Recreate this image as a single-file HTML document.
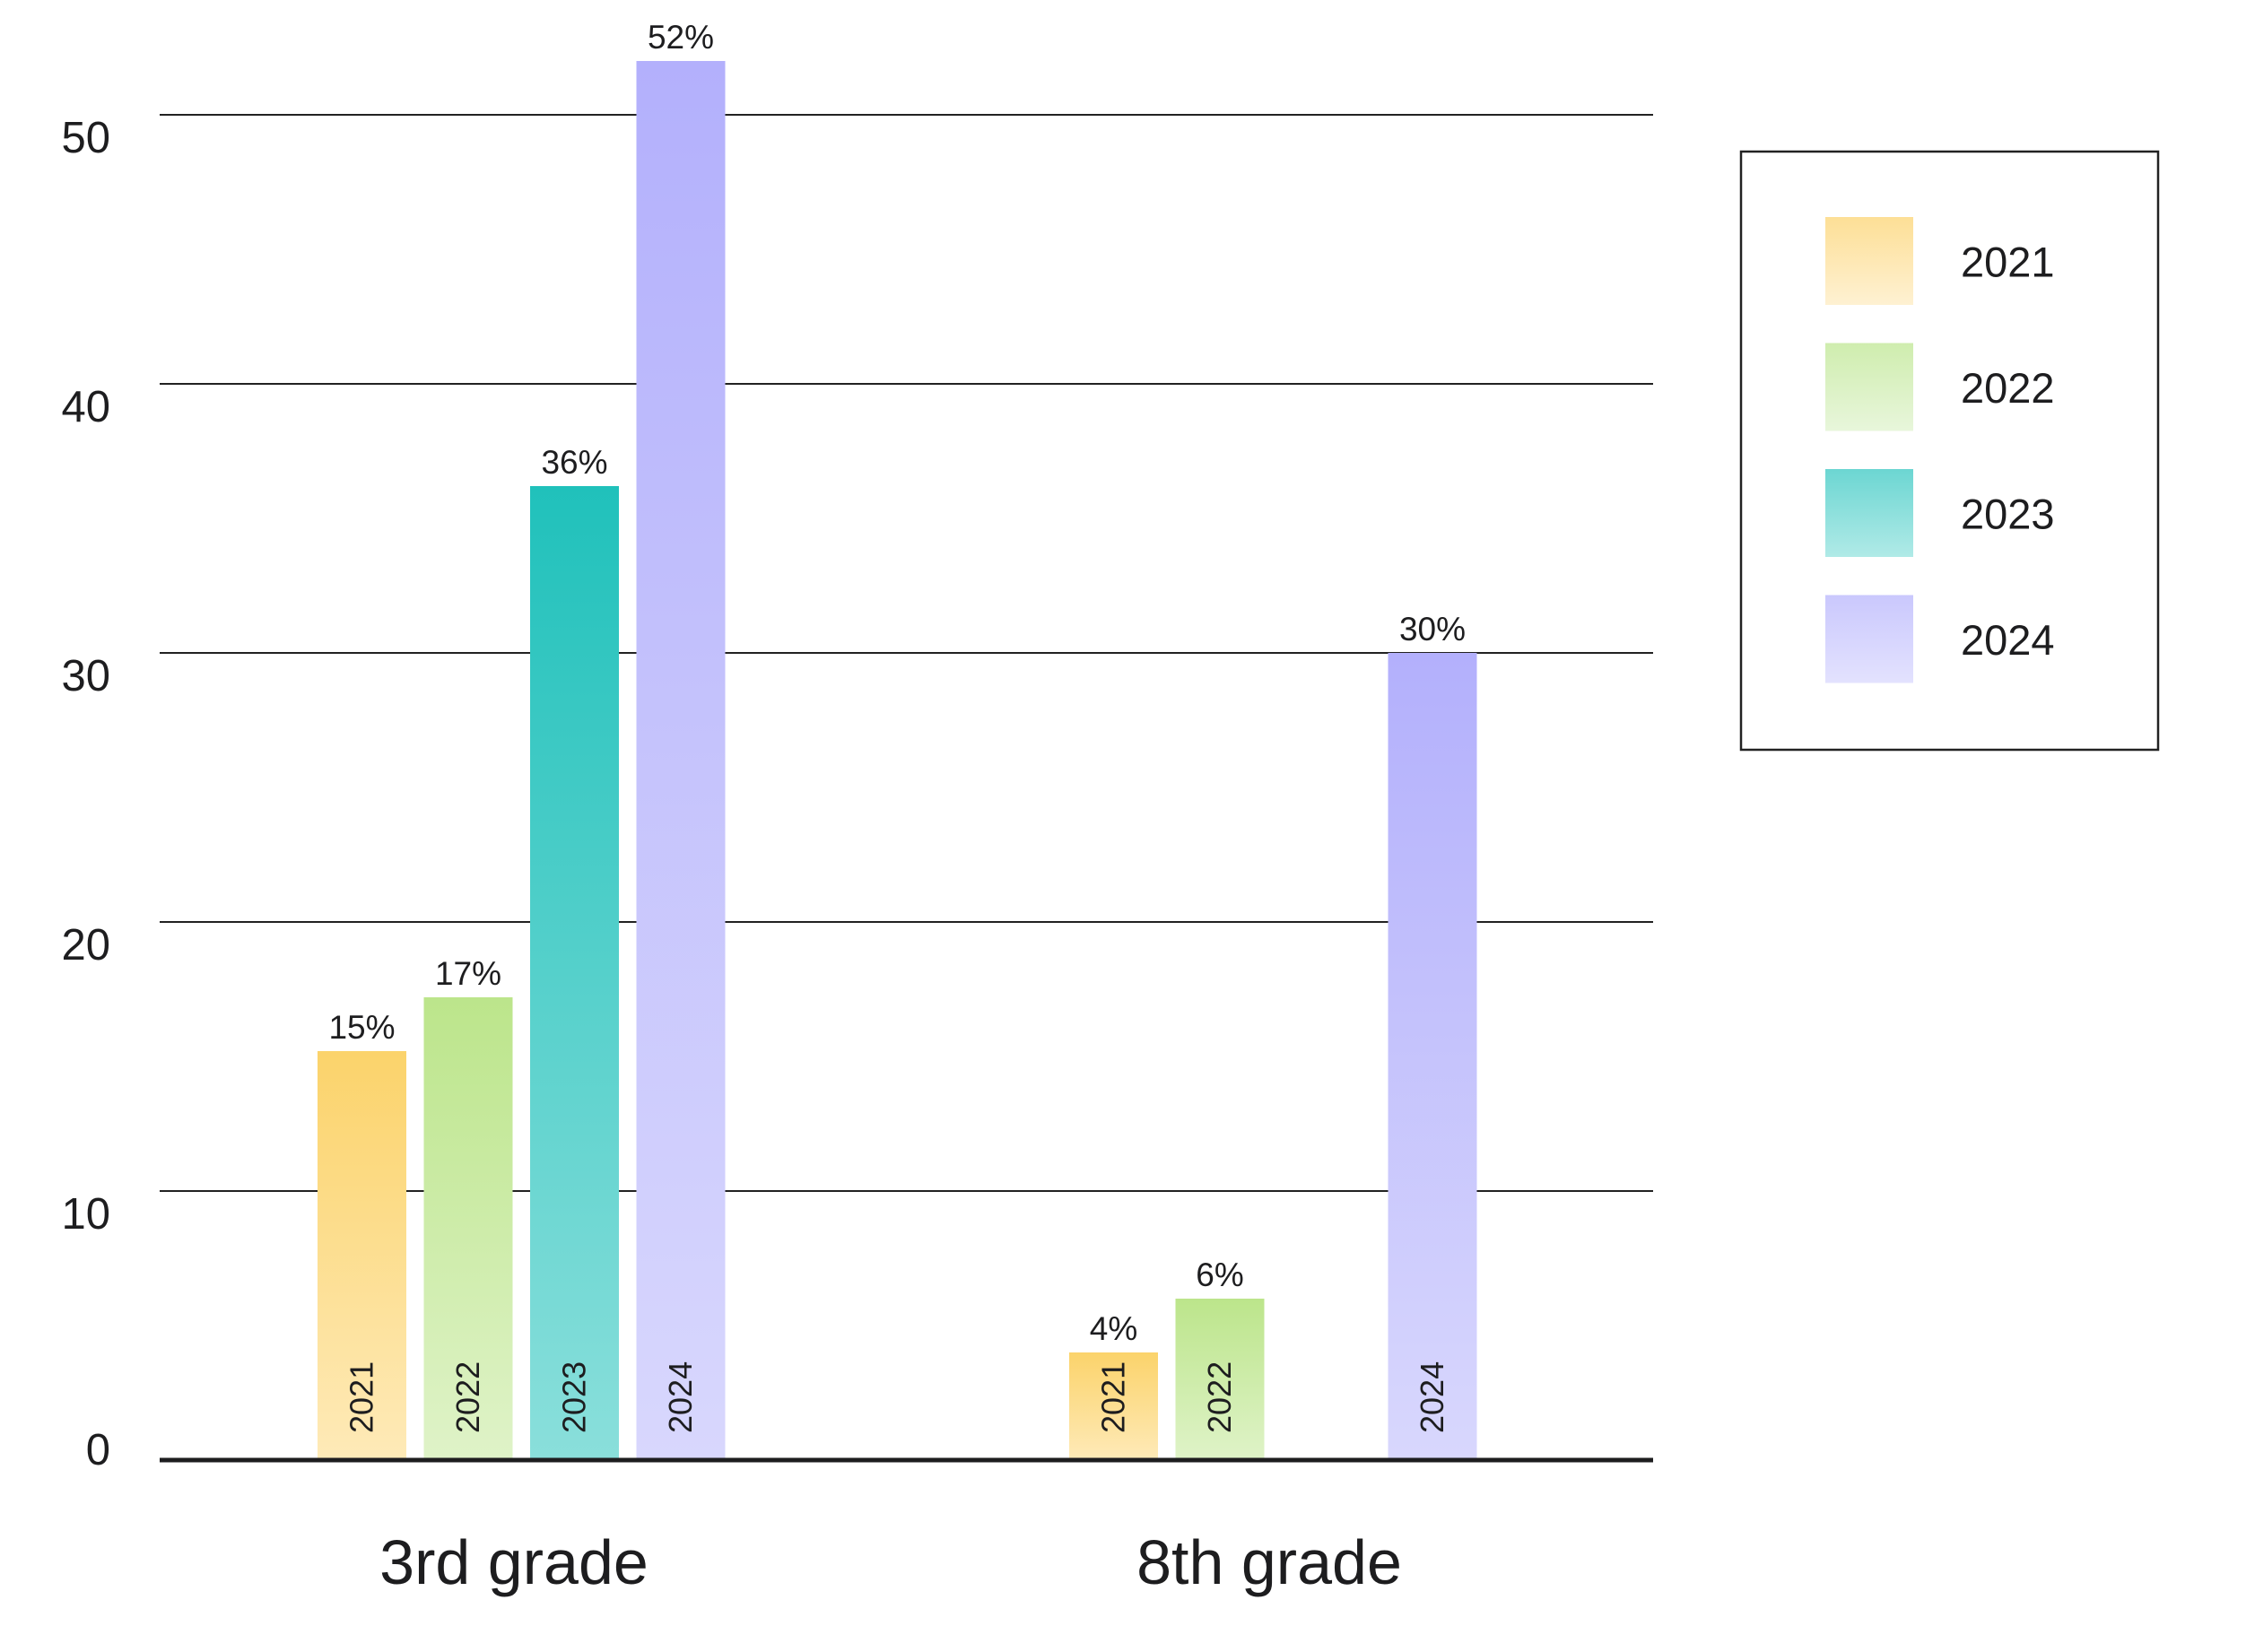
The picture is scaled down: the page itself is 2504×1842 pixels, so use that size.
<!DOCTYPE html>
<html><head><meta charset="utf-8"><style>
html,body{margin:0;padding:0;background:#fff;}
svg{display:block;font-family:"Liberation Sans",sans-serif;}
</style></head><body>
<svg id="chart" width="2504" height="1842" viewBox="0 0 2504 1842" xmlns="http://www.w3.org/2000/svg">
<defs>
<linearGradient id="g2021" x1="0" y1="0" x2="0" y2="1"><stop offset="0" stop-color="#fbd36b"/><stop offset="1" stop-color="#feeab8"/></linearGradient>
<linearGradient id="g2022" x1="0" y1="0" x2="0" y2="1"><stop offset="0" stop-color="#bce58b"/><stop offset="1" stop-color="#dff3c8"/></linearGradient>
<linearGradient id="g2023" x1="0" y1="0" x2="0" y2="1"><stop offset="0" stop-color="#20c1bb"/><stop offset="1" stop-color="#8adfdb"/></linearGradient>
<linearGradient id="g2024" x1="0" y1="0" x2="0" y2="1"><stop offset="0" stop-color="#b3b0fc"/><stop offset="1" stop-color="#d8d7fd"/></linearGradient>
<linearGradient id="l2021" x1="0" y1="0" x2="0" y2="1"><stop offset="0" stop-color="#fddf96"/><stop offset="1" stop-color="#fef1d2"/></linearGradient>
<linearGradient id="l2022" x1="0" y1="0" x2="0" y2="1"><stop offset="0" stop-color="#cfedae"/><stop offset="1" stop-color="#e8f6db"/></linearGradient>
<linearGradient id="l2023" x1="0" y1="0" x2="0" y2="1"><stop offset="0" stop-color="#6cd6d2"/><stop offset="1" stop-color="#b0eae7"/></linearGradient>
<linearGradient id="l2024" x1="0" y1="0" x2="0" y2="1"><stop offset="0" stop-color="#cac8fd"/><stop offset="1" stop-color="#e3e2fe"/></linearGradient>
</defs>
<g id="grid"></g>
<g id="bars"></g>
<g id="labels"></g>
<g id="legend">
<rect x="1941" y="169" width="465" height="667" fill="#fff" stroke="#222" stroke-width="2.5"/>
</g>
</svg>
<script>
const categories = ["3rd grade", "8th grade"];
const seriesNames = ["2021", "2022", "2023", "2024"];
const values3rd = [15.2, 17.2, 36.2, 52.0];
const values8th = [4.0, 6.0, null, 30.0];
const valueLabels3rd = ["15%", "17%", "36%", "52%"];
const valueLabels8th = ["4%", "6%", "", "30%"];
const yTicks = [0, 10, 20, 30, 40, 50];

const NS = "http://www.w3.org/2000/svg";
const svg = document.getElementById('chart');
const X0 = 178, X1 = 1843, Y0 = 1628, PXU = 30;
function y(v){ return Y0 - v * PXU; }
const groupStart = [354, 1192];
const step = 118.5, barW = 99;
function bx(g, s){ return groupStart[g] + s * step; }
function mk(tag, attrs, parent){
  const e = document.createElementNS(NS, tag);
  for (const k in attrs) e.setAttribute(k, attrs[k]);
  parent.appendChild(e); return e;
}
const grid = document.getElementById('grid');
const bars = document.getElementById('bars');
const labels = document.getElementById('labels');
const legend = document.getElementById('legend');

yTicks.forEach(t => {
  if (t > 0) {
    const l = mk('line', {x1: X0, x2: X1, y1: y(t), y2: y(t), stroke: '#222', 'stroke-width': 2}, grid);
    
    
  }
  const ty = t > 0 ? y(t) + 26 : y(t) - 11;
  const tx = mk('text', {x: 123, y: ty, 'text-anchor': 'end', 'dominant-baseline': 'central', 'font-size': 49, fill: '#1d1d1f'}, labels);
  tx.textContent = t;
  
  
});

const allVals = [values3rd, values8th];
const allLabels = [valueLabels3rd, valueLabels8th];
allVals.forEach((vals, g) => {
  vals.forEach((v, s) => {
    if (v === null) return;
    const x = bx(g, s);
    const r = mk('rect', {x: x, y: y(v), width: barW, height: Y0 - y(v), fill: 'url(#g' + seriesNames[s] + ')'}, bars);
    
    
    const vl = mk('text', {x: x + barW / 2, y: y(v) - 14, 'text-anchor': 'middle', 'font-size': 37, fill: '#1d1d1f'}, labels);
    vl.textContent = allLabels[g][s];
    
    
    const cx = x + barW / 2 + 12, cy = 1598;
    const yl = mk('text', {x: cx, y: cy, 'font-size': 36, fill: '#1d1d1f', transform: 'rotate(-90 ' + cx + ' ' + cy + ')'}, labels);
    yl.textContent = seriesNames[s];
    
    
  });
});

const base = mk('line', {x1: X0, x2: X1, y1: Y0, y2: Y0, stroke: '#1d1d1f', 'stroke-width': 5}, grid);


svg.appendChild(base);

const catCenters = [573, 1415];
categories.forEach((c, i) => {
  const t = mk('text', {x: catCenters[i], y: 1742, 'text-anchor': 'middle', 'dominant-baseline': 'central', 'font-size': 70, fill: '#1d1d1f'}, labels);
  t.textContent = c;
  
  
});

seriesNames.forEach((n, i) => {
  const top = 242 + i * 140.5;
  const sw = mk('rect', {x: 2035, y: top, width: 98, height: 98, fill: 'url(#l' + n + ')'}, legend);
  
  
  const t = mk('text', {x: 2186, y: top + 50, 'dominant-baseline': 'central', 'font-size': 47, fill: '#1d1d1f'}, legend);
  t.textContent = n;
  
  
});
</script>
</body></html>
